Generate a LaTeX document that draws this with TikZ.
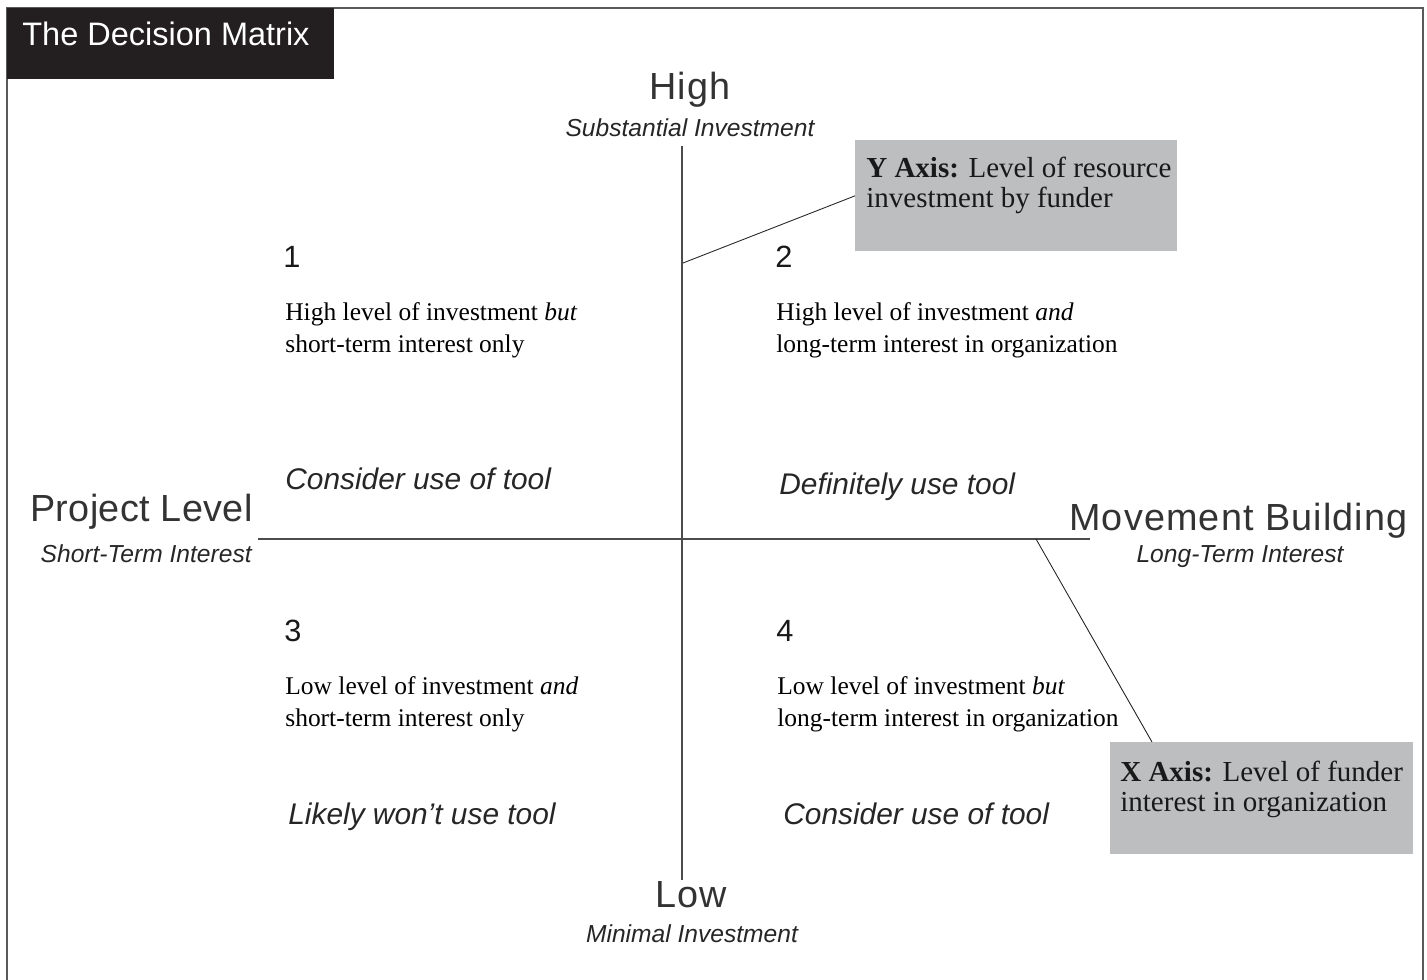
\documentclass[tikz,border=0pt]{standalone}
\usepackage{fontspec}
\setmainfont{Liberation Serif}
\setsansfont{Liberation Sans}
\usetikzlibrary{positioning,calc}

\definecolor{titlebg}{HTML}{231F20}
\definecolor{calloutgray}{HTML}{BCBEC0}
\definecolor{framegray}{HTML}{5A5A5A}

\begin{document}
\begin{tikzpicture}[
        x=0.02cm, y=-0.02cm,
        font=\sffamily,
        % text styles
        axisname/.style={font=\sffamily\fontsize{21.5}{25}\selectfont\addfontfeatures{LetterSpace=#1}, inner sep=0pt, text=black!80},
        axisname/.default=3.0,
        axissub/.style={font=\sffamily\itshape\fontsize{14}{17}\selectfont, inner sep=0pt, text=black!85},
        quadnum/.style={font=\sffamily\fontsize{17.5}{21}\selectfont, inner sep=0pt, anchor=base west, text=black!90},
        quaddesc/.style={font=\rmfamily\fontsize{14.5}{18.2}\selectfont, inner sep=0pt, align=left, anchor=base west},
        verdict/.style={font=\sffamily\itshape\fontsize{17}{20}\selectfont, inner sep=0pt, anchor=base west, text=black!85},
        % boxes
        callout/.style={rectangle, fill=calloutgray, inner sep=0pt, anchor=north west},
        callouttext/.style={font=\rmfamily\fontsize{16.5}{17}\selectfont, inner sep=0pt, align=left, anchor=base west, text=black!90},
        % lines
        axisline/.style={draw=black!70, line width=0.6pt},
        leader/.style={draw=black!85, line width=0.5pt}
    ]
    \useasboundingbox (0,0) rectangle (1427,980);

    % Frame and title
    \draw[framegray, line width=1.1pt] (7,980) -- (7,8) -- (1423,8) -- (1423,980);
    \node[fill=titlebg, minimum width=6.54cm, minimum height=1.42cm, inner sep=0pt, anchor=north west] (titlebox) at (7,8) {};
    \node[font=\sffamily\fontsize{18.5}{22}\selectfont, text=white, inner sep=0pt, anchor=base west] (title) at (22,46) {The Decision Matrix};

    % Axes
    \coordinate (ytop) at (682,146);
    \coordinate (ybot) at (682,880);
    \coordinate (xleft) at (258,539);
    \coordinate (xright) at (1090,539);
    \draw[axisline] (ytop) -- (ybot);
    \draw[axisline] (xleft) -- (xright);

    % Axis labels
    \node[axisname, anchor=base] (high) at (690,100) {High};
    \node[axissub, anchor=base] (highsub) at (690,136) {Substantial Investment};
    \node[axisname, anchor=base] (low) at (691,907) {Low};
    \node[axissub, anchor=base] (lowsub) at (692,942) {Minimal Investment};
    \node[axisname=1.0, anchor=base east] (project) at (253,521) {Project Level};
    \node[axissub, anchor=base east] (projectsub) at (252,562) {Short-Term Interest};
    \node[axisname, anchor=base east] (movement) at (1408,530) {Movement Building};
    \node[axissub, anchor=base] (movementsub) at (1240,562) {Long-Term Interest};

    % Quadrant 1 (multi-line nodes sit on their last baseline)
    \node[quadnum] (q1) at (283,267) {1};
    \node[quaddesc] (q1desc) at (285,352) {High level of investment \textit{but}\\short-term interest only};
    \node[verdict] (q1verdict) at (285,489) {Consider use of tool};

    % Quadrant 2
    \node[quadnum] (q2) at (775,267) {2};
    \node[quaddesc] (q2desc) at (776,352) {High level of investment \textit{and}\\long-term interest in organization};
    \node[verdict] (q2verdict) at (779,494) {Definitely use tool};

    % Quadrant 3
    \node[quadnum] (q3) at (284,641) {3};
    \node[quaddesc] (q3desc) at (285,726) {Low level of investment \textit{and}\\short-term interest only};
    \node[verdict] (q3verdict) at (288,824) {Likely won't use tool};

    % Quadrant 4
    \node[quadnum] (q4) at (776,641) {4};
    \node[quaddesc] (q4desc) at (777,726) {Low level of investment \textit{but}\\long-term interest in organization};
    \node[verdict] (q4verdict) at (783,824) {Consider use of tool};

    % Callouts
    \node[callout, minimum width=6.44cm, minimum height=2.22cm] (ybox) at (855,140) {};
    \node[callouttext] (ytext) at (866,207) {\textbf{Y Axis:} Level of resource\\investment by funder};
    \node[callout, minimum width=6.06cm, minimum height=2.24cm] (xbox) at (1110,742) {};
    \node[callouttext] (xtext) at (1120,811) {\textbf{X Axis:} Level of funder\\interest in organization};

    % Leaders
    \coordinate (yfoot) at (683,263);
    \coordinate (xfoot) at (1036,539);
    \draw[leader] (yfoot) -- (ybox.west);
    \draw[leader] (xfoot) -- ([xshift=0.84cm]xbox.north west);

\end{tikzpicture}
\end{document}
